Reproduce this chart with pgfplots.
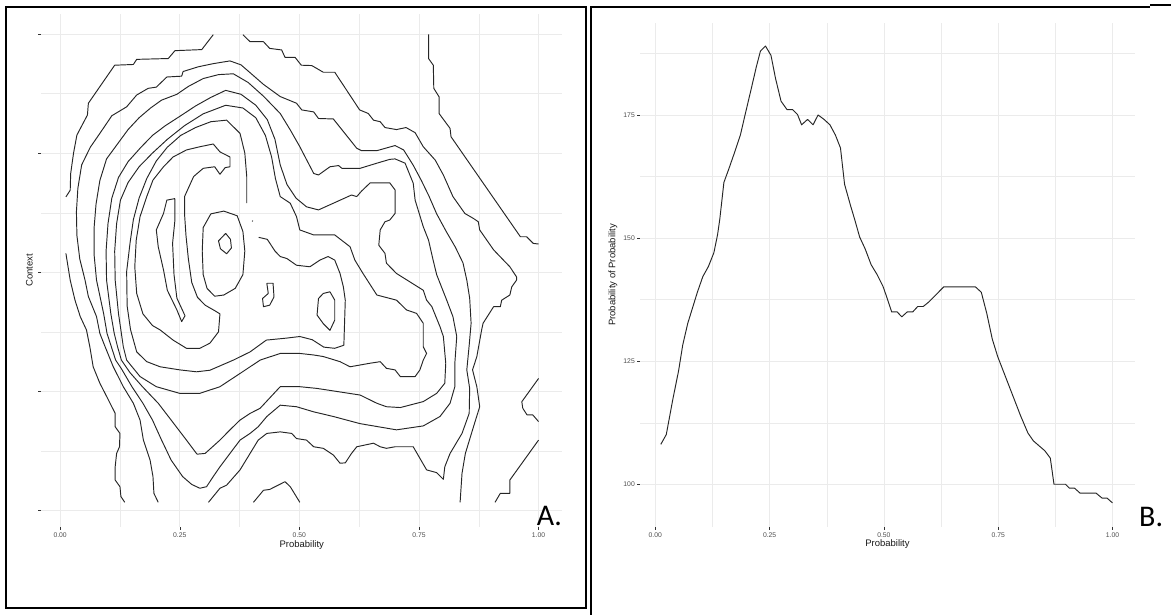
\documentclass[border=0pt]{standalone}
\usepackage{fontspec}
\setmainfont{Liberation Sans}
\newfontfamily\calibri{Carlito}
\usepackage{pgfplots}
\pgfplotsset{compat=1.18}
\definecolor{grid92}{gray}{0.92}
\definecolor{lab30}{gray}{0.30}
\definecolor{tick20}{gray}{0.20}
\pgfplotsset{
  gg/.style={
    scale only axis, anchor=south west,
    axis line style={draw=none},
    tick align=outside, tick pos=left,
    major tick length=3pt, minor tick length=0pt,
    tick style={tick20, line width=0.5pt},
    grid=both,
    major grid style={grid92, line width=0.55pt},
    minor grid style={grid92, line width=0.3pt},
    ticklabel style={font=\fontsize{6.8}{8}\selectfont, text=lab30, inner sep=0pt},
    xticklabel style={anchor=base, yshift=-7.6pt},
    label style={font=\fontsize{9.5}{11}\selectfont, text=black!90},
    xtick={0,0.25,0.5,0.75,1},
    xticklabels={0.00,0.25,0.50,0.75,1.00},
    minor xtick={0.125,0.375,0.625,0.875},
    xlabel={Probability},
  },
  cl/.style={black!85, line width=0.95pt, line join=round, mark=none},
}

\begin{document}
\begin{tikzpicture}
\useasboundingbox (0pt,0pt) rectangle (1171pt,615pt);

% ---------- A: contour plot ----------
\begin{axis}[gg,
  at={(41.5pt,88pt)}, width=520.5pt, height=513.4pt,
  xmin=-0.039, xmax=1.049, ymin=-0.137, ymax=4.17,
  ytick={0,1,2,3,4}, yticklabels={},
  minor ytick={0.5,1.5,2.5,3.5},
  ylabel={Context},
  xlabel style={at={(axis description cs:0.5,-0.039)}, anchor=base},
  ylabel style={at={(axis description cs:-0.0169,0.5)}, anchor=base},
]
% outer lines touching the borders
\addplot[cl] coordinates {(0.320,3.993) (0.296,3.868) (0.240,3.859) (0.226,3.793) (0.160,3.786) (0.153,3.743) (0.114,3.737) (0.059,3.418) (0.057,3.319) (0.035,3.151) (0.028,3.000) (0.022,2.829) (0.021,2.688) (0.012,2.632)};
\addplot[cl] coordinates {(0.382,3.993) (0.397,3.934) (0.425,3.934) (0.438,3.878) (0.463,3.865) (0.470,3.803) (0.491,3.803) (0.504,3.737) (0.526,3.734) (0.550,3.678) (0.574,3.678) (0.626,3.362) (0.644,3.332) (0.655,3.276) (0.669,3.263) (0.679,3.214) (0.703,3.197) (0.723,3.214) (0.742,3.171) (0.759,3.053) (0.784,2.941) (0.801,2.816) (0.821,2.635) (0.846,2.493) (0.864,2.451) (0.874,2.424) (0.877,2.355) (0.906,2.188) (0.940,2.046) (0.954,1.961) (0.954,1.934) (0.944,1.878) (0.940,1.809) (0.923,1.766) (0.920,1.711) (0.906,1.711) (0.884,1.572) (0.881,1.516) (0.871,1.293) (0.862,1.181) (0.871,1.039) (0.877,0.872) (0.864,0.704) (0.847,0.480) (0.840,0.313) (0.836,0.07)};
\addplot[cl] coordinates {(0.770,3.995) (0.770,3.793) (0.780,3.737) (0.781,3.543) (0.792,3.472) (0.792,3.332) (0.815,3.207) (0.817,3.137) (0.962,2.298) (0.975,2.298) (0.989,2.242) (1.0,2.237)};
\addplot[cl] coordinates {(1.0,1.109) (0.965,0.914) (0.967,0.859) (0.976,0.803) (0.988,0.803) (1.0,0.747)};
\addplot[cl] coordinates {(1.0,0.592) (0.940,0.257) (0.940,0.145) (0.920,0.145) (0.909,0.07)};
\addplot[cl] coordinates {(0.012,2.158) (0.021,1.934) (0.031,1.766) (0.042,1.628) (0.055,1.516) (0.062,1.375) (0.069,1.207) (0.083,1.069) (0.101,0.928) (0.115,0.816) (0.115,0.704) (0.125,0.648) (0.124,0.536) (0.118,0.480) (0.115,0.368) (0.115,0.257) (0.125,0.201) (0.127,0.118) (0.135,0.07)};
\addplot[cl] coordinates {(0.404,0.07) (0.425,0.171) (0.438,0.178) (0.470,0.243) (0.481,0.201) (0.501,0.07)};
% nested levels
\addplot[cl] coordinates {(0.205,0.07) (0.196,0.145) (0.194,0.286) (0.188,0.424) (0.174,0.592) (0.167,0.760) (0.153,0.901) (0.132,1.040) (0.111,1.207) (0.094,1.375) (0.083,1.487) (0.076,1.628) (0.059,1.796) (0.052,1.934) (0.041,2.112) (0.035,2.309) (0.034,2.507) (0.037,2.704) (0.045,2.901) (0.063,3.049) (0.083,3.165) (0.108,3.313) (0.139,3.388) (0.160,3.487) (0.184,3.543) (0.201,3.553) (0.223,3.638) (0.254,3.645) (0.257,3.684) (0.289,3.724) (0.320,3.750) (0.355,3.773) (0.378,3.740) (0.397,3.674) (0.425,3.576) (0.460,3.474) (0.494,3.418) (0.505,3.362) (0.530,3.345) (0.540,3.290) (0.571,3.286) (0.620,3.040) (0.630,3.020) (0.662,3.020) (0.700,3.063) (0.718,3.026) (0.738,2.898) (0.755,2.770) (0.771,2.638) (0.787,2.490) (0.807,2.342) (0.826,2.211) (0.842,2.079) (0.850,1.934) (0.856,1.783) (0.859,1.572) (0.855,1.388) (0.850,1.181) (0.856,1.026) (0.855,0.816) (0.840,0.648) (0.815,0.480) (0.804,0.368) (0.801,0.263) (0.787,0.319) (0.766,0.342) (0.738,0.536) (0.700,0.536) (0.682,0.523) (0.669,0.536) (0.655,0.566) (0.620,0.536) (0.609,0.480) (0.596,0.401) (0.585,0.398) (0.571,0.467) (0.550,0.523) (0.530,0.536) (0.515,0.592) (0.494,0.605) (0.484,0.648) (0.460,0.661) (0.432,0.648) (0.414,0.592) (0.376,0.342) (0.348,0.214) (0.334,0.188) (0.310,0.07)};
\addplot[cl] coordinates {(0.292,0.188) (0.275,0.220) (0.256,0.286) (0.232,0.424) (0.212,0.592) (0.193,0.760) (0.173,0.901) (0.150,1.040) (0.128,1.191) (0.116,1.263) (0.107,1.375) (0.098,1.487) (0.091,1.651) (0.076,1.934) (0.071,2.145) (0.071,2.375) (0.075,2.572) (0.083,2.770) (0.097,2.951) (0.118,3.066) (0.142,3.197) (0.165,3.296) (0.189,3.378) (0.212,3.444) (0.244,3.493) (0.268,3.559) (0.299,3.625) (0.331,3.658) (0.362,3.665) (0.393,3.592) (0.425,3.477) (0.460,3.332) (0.481,3.194) (0.501,3.053) (0.530,2.829) (0.540,2.816) (0.564,2.885) (0.582,2.895) (0.589,2.872) (0.627,2.872) (0.662,2.915) (0.689,2.947) (0.700,2.951) (0.721,2.915) (0.738,2.747) (0.742,2.605) (0.759,2.382) (0.770,2.270) (0.779,2.112) (0.787,1.980) (0.808,1.766) (0.821,1.628) (0.829,1.461) (0.825,1.237) (0.825,1.040) (0.815,0.901) (0.794,0.790) (0.759,0.711) (0.703,0.678) (0.627,0.730) (0.571,0.790) (0.530,0.829) (0.494,0.872) (0.460,0.885) (0.432,0.790) (0.414,0.704) (0.397,0.648) (0.376,0.592) (0.355,0.480) (0.334,0.368) (0.320,0.286) (0.306,0.201) (0.292,0.188)};
\addplot[cl] coordinates {(0.286,0.474) (0.264,0.592) (0.232,0.760) (0.205,0.901) (0.172,1.040) (0.146,1.158) (0.128,1.263) (0.120,1.375) (0.113,1.487) (0.106,1.651) (0.097,1.934) (0.096,2.178) (0.100,2.408) (0.108,2.622) (0.122,2.796) (0.142,2.928) (0.169,3.049) (0.193,3.148) (0.220,3.230) (0.252,3.313) (0.283,3.395) (0.315,3.467) (0.346,3.526) (0.378,3.493) (0.409,3.401) (0.433,3.280) (0.449,3.115) (0.460,2.901) (0.474,2.737) (0.493,2.622) (0.515,2.549) (0.540,2.523) (0.571,2.579) (0.609,2.648) (0.620,2.635) (0.630,2.681) (0.648,2.750) (0.689,2.750) (0.700,2.691) (0.700,2.493) (0.689,2.438) (0.679,2.424) (0.669,2.355) (0.666,2.227) (0.679,2.158) (0.682,2.076) (0.703,1.990) (0.759,1.849) (0.766,1.766) (0.777,1.711) (0.794,1.543) (0.801,1.461) (0.806,1.237) (0.804,1.069) (0.787,0.984) (0.759,0.915) (0.711,0.865) (0.682,0.872) (0.662,0.901) (0.627,0.970) (0.536,1.026) (0.501,1.040) (0.460,1.040) (0.418,0.859) (0.397,0.816) (0.376,0.760) (0.355,0.678) (0.334,0.592) (0.303,0.480) (0.286,0.474)};
\addplot[cl] coordinates {(0.460,2.635) (0.481,2.579) (0.494,2.467) (0.501,2.355) (0.530,2.313) (0.574,2.313) (0.606,2.214) (0.616,2.102) (0.633,1.990) (0.662,1.809) (0.703,1.766) (0.724,1.684) (0.745,1.655) (0.759,1.572) (0.759,1.375) (0.766,1.319) (0.759,1.263) (0.752,1.181) (0.742,1.125) (0.711,1.125) (0.700,1.181) (0.682,1.194) (0.669,1.250) (0.648,1.237) (0.606,1.207) (0.585,1.250) (0.550,1.293) (0.530,1.306) (0.501,1.319) (0.460,1.319) (0.418,1.263) (0.376,1.151) (0.334,1.040) (0.292,0.984) (0.250,0.984) (0.201,1.040) (0.167,1.125) (0.139,1.263) (0.132,1.375) (0.128,1.487) (0.122,1.651) (0.115,1.934) (0.114,2.178) (0.118,2.408) (0.126,2.605) (0.142,2.753) (0.165,2.885) (0.193,3.000) (0.224,3.115) (0.260,3.230) (0.299,3.329) (0.346,3.401) (0.382,3.378) (0.409,3.296) (0.429,3.148) (0.442,2.967) (0.450,2.786) (0.460,2.635)};
\addplot[cl] coordinates {(0.390,2.579) (0.390,2.803) (0.386,3.000) (0.376,3.165) (0.348,3.276) (0.315,3.263) (0.283,3.214) (0.252,3.148) (0.224,3.049) (0.201,2.934) (0.181,2.786) (0.165,2.622) (0.153,2.441) (0.146,2.243) (0.139,2.007) (0.140,1.717) (0.147,1.520) (0.160,1.332) (0.181,1.250) (0.209,1.207) (0.250,1.181) (0.285,1.165) (0.313,1.178) (0.362,1.263) (0.397,1.332) (0.431,1.431) (0.472,1.447) (0.501,1.461) (0.527,1.434) (0.551,1.372) (0.574,1.362) (0.593,1.388) (0.596,1.766) (0.592,1.878) (0.585,1.990) (0.574,2.102) (0.560,2.132) (0.543,2.102) (0.522,2.046) (0.494,2.059) (0.474,2.115) (0.460,2.132) (0.449,2.178) (0.433,2.276) (0.415,2.293)};
\addplot[cl] coordinates {(0.401,2.431) (0.403,2.428)};
% inner closed contours
\addplot[cl] coordinates {(0.355,2.967) (0.334,3.010) (0.320,3.076) (0.292,3.053) (0.264,3.026) (0.236,2.967) (0.216,2.885) (0.194,2.773) (0.181,2.635) (0.167,2.467) (0.159,2.270) (0.156,2.046) (0.160,1.822) (0.173,1.651) (0.193,1.553) (0.209,1.516) (0.236,1.431) (0.264,1.362) (0.292,1.362) (0.313,1.405) (0.331,1.500) (0.334,1.651) (0.323,1.678) (0.303,1.724) (0.287,1.790) (0.275,1.915) (0.268,2.112) (0.263,2.309) (0.260,2.490) (0.260,2.635) (0.279,2.803) (0.299,2.872) (0.323,2.885) (0.334,2.822) (0.345,2.878) (0.355,2.885) (0.355,2.967)};
\addplot[cl] coordinates {(0.240,2.618) (0.223,2.605) (0.216,2.493) (0.201,2.355) (0.205,2.214) (0.216,2.020) (0.224,1.849) (0.244,1.684) (0.254,1.586) (0.261,1.635) (0.244,1.783) (0.238,1.980) (0.235,2.243) (0.240,2.441) (0.240,2.618)};
\addplot[cl] coordinates {(0.315,2.490) (0.342,2.513) (0.370,2.474) (0.382,2.342) (0.386,2.178) (0.382,1.980) (0.366,1.865) (0.342,1.809) (0.323,1.799) (0.307,1.865) (0.299,1.980) (0.297,2.178) (0.299,2.375) (0.315,2.490)};
\addplot[cl] coordinates {(0.346,2.326) (0.356,2.276) (0.358,2.204) (0.348,2.155) (0.335,2.197) (0.331,2.263) (0.346,2.326)};
\addplot[cl] coordinates {(0.432,1.908) (0.445,1.908) (0.447,1.793) (0.438,1.724) (0.425,1.711) (0.423,1.780) (0.435,1.822) (0.432,1.908)};
\addplot[cl] coordinates {(0.550,1.822) (0.564,1.836) (0.574,1.766) (0.574,1.599) (0.564,1.513) (0.550,1.569) (0.537,1.641) (0.540,1.780) (0.550,1.822)};
\end{axis}

% ---------- B: line plot ----------
\begin{axis}[gg,
  at={(640pt,88.4pt)}, width=494.9pt, height=503.2pt,
  xmin=-0.0335, xmax=1.049, ymin=91.4, ymax=193.6,
  ytick={100,125,150,175},
  yticklabels={100,125,150,175},
  minor ytick={112.5,137.5,162.5,187.5},
  yticklabel style={anchor=east, xshift=-2pt},
  ylabel={Probability of Probability},
  xlabel style={at={(axis description cs:0.5,-0.0405)}, anchor=base},
  ylabel style={at={(axis description cs:-0.0499,0.5)}, anchor=base},
]
\addplot[cl] coordinates {(0.012,108.1) (0.024,110.1) (0.038,117.1) (0.051,123.1) (0.060,128.3) (0.071,132.7) (0.092,139.0) (0.104,142.2) (0.116,144.2) (0.128,147.0) (0.136,150.6) (0.141,153.8) (0.150,161.3) (0.161,164.1) (0.173,167.3) (0.186,170.9) (0.196,174.9) (0.210,180.4) (0.221,184.8) (0.230,188.0) (0.241,189.0) (0.253,187.1) (0.263,182.4) (0.275,177.8) (0.288,176.1) (0.300,176.1) (0.311,175.1) (0.320,173.0) (0.333,174.1) (0.345,173.0) (0.356,175.0) (0.369,174.1) (0.382,173.0) (0.394,170.9) (0.405,168.3) (0.414,160.9) (0.427,156.6) (0.436,153.8) (0.447,150.2) (0.459,147.8) (0.472,144.6) (0.485,142.6) (0.498,140.2) (0.507,137.8) (0.517,135.0) (0.529,135.0) (0.539,134.0) (0.551,135.0) (0.563,135.0) (0.574,136.1) (0.586,136.1) (0.598,137.0) (0.631,140.1) (0.700,140.1) (0.713,139.0) (0.725,134.7) (0.737,129.5) (0.749,125.9) (0.774,119.9) (0.799,113.9) (0.815,110.4) (0.827,108.8) (0.852,106.8) (0.864,105.3) (0.872,100.0) (0.897,100.0) (0.906,99.2) (0.917,99.2) (0.929,98.2) (0.964,98.2) (0.977,97.2) (0.988,97.2) (1.000,96.2)};
\end{axis}

% panel letters and frames
\node[anchor=base west, inner sep=0pt, font=\calibri\fontsize{30}{32}\selectfont] at (536.7pt,89.5pt) {A.};
\node[anchor=base west, inner sep=0pt, font=\calibri\fontsize{30}{32}\selectfont] at (1139pt,88.3pt) {B.};
\draw[line width=2pt] (6pt,7pt) rectangle (586pt,608pt);
\draw[line width=1.8pt] (590.7pt,0pt) -- (590.7pt,607.7pt) -- (1150pt,607.7pt);
\draw[line width=1.8pt] (1150pt,609.6pt) -- (1171pt,609.6pt);
\end{tikzpicture}
\end{document}
